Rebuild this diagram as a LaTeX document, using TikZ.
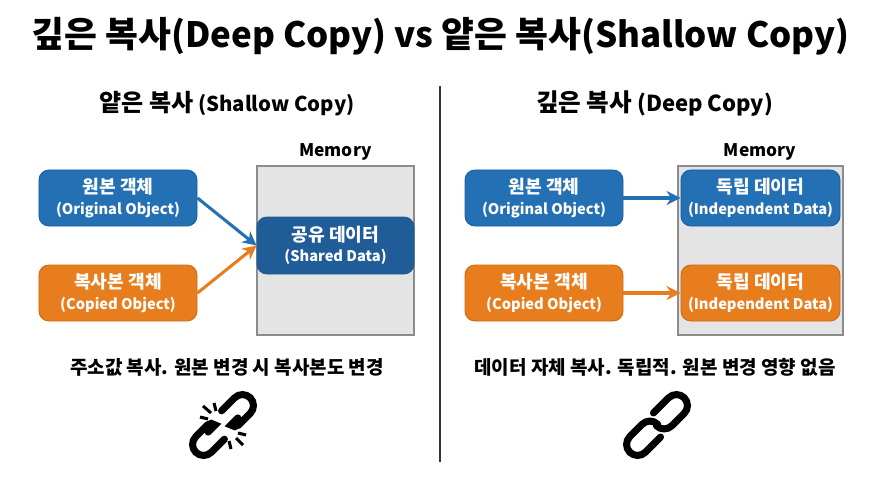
\documentclass[tikz,border=0pt]{standalone}
\usepackage{fontspec}
\setmainfont{Noto Sans CJK KR}
\usetikzlibrary{arrows.meta}

\definecolor{objblue}{HTML}{2470B4}
\definecolor{objblueline}{HTML}{1B5F9E}
\definecolor{shareblue}{HTML}{1F5C98}
\definecolor{objorange}{HTML}{E87D1E}
\definecolor{objorangeline}{HTML}{CC6A14}
\definecolor{memfill}{HTML}{E4E4E4}
\definecolor{memline}{HTML}{8C8C8C}

\newcommand{\krsized}[2]{{\fontsize{#1}{#1}\selectfont #2}}
\newcommand{\boxtext}[2]{\krsized{15.5}{#1}\\[0.5pt]#2}

\begin{document}
\begin{tikzpicture}[x=0.03cm, y=-0.03cm]
        \tikzset{
            title text/.style={font=\fontsize{29.8}{36}\selectfont\bfseries, text=black},
            head text/.style={font=\fontsize{17.4}{22}\selectfont\bfseries, text=black},
            note text/.style={font=\fontsize{16.2}{20}\selectfont\bfseries, text=black},
            memory text/.style={font=\fontsize{14.8}{18}\selectfont\bfseries, text=black},
            objbox/.style={
                    rounded corners=0.3cm, line width=0.8pt, text=white, align=center,
                    minimum width=4.74cm, minimum height=1.68cm, inner sep=0pt,
                    font=\fontsize{12.5}{17}\selectfont\bfseries
                },
            blue box/.style={objbox, fill=objblue, draw=objblueline},
            orange box/.style={objbox, fill=objorange, draw=objorangeline},
            share box/.style={objbox, fill=shareblue, draw=shareblue},
            memory box/.style={draw=memline, fill=memfill, line width=0.9pt, minimum height=5.07cm, inner sep=0pt},
            blue arrow/.style={draw=objblue, line width=2.6pt, -{Stealth[length=0.42cm, width=0.42cm]}},
            orange arrow/.style={draw=objorange, line width=2.6pt, -{Stealth[length=0.42cm, width=0.42cm]}},
            chain line/.style={line width=6pt, line cap=round, black},
            spark line/.style={line width=2.6pt, black},
            link whole/.pic={
                    \draw[chain line] (6,-11) -- (27.5,-11) arc (-90:90:11) -- (10,11) arc (90:180:11);
                    \draw[chain line] (-6,11) -- (-27.5,11) arc (90:270:11) -- (-10,-11) arc (-90:0:11);
                },
            link broken/.pic={
                    \draw[chain line] (9,-11) -- (27.5,-11) arc (-90:90:11) -- (11,11) arc (90:180:5.5) -- ++(10,0);
                    \draw[chain line] (-9,11) -- (-27.5,11) arc (90:270:11) -- (-11,-11) arc (-90:0:5.5) -- ++(-10,0);
                }
        }

        \fill[white] (0,0) rectangle (880,480);
        \useasboundingbox (0,0) rectangle (880,480);

        \node[title text] (title) at (440.5,36) {\krsized{30.5}{깊은 복사}(Deep Copy) vs \krsized{30.5}{얕은 복사}(Shallow Copy)};
        \node[head text] (headL) at (227,104) {\krsized{20.5}{얕은 복사} (Shallow Copy)};
        \node[head text, font=\fontsize{18.8}{22}\selectfont\bfseries] (headR) at (654.5,104) {\krsized{21}{깊은 복사} (Deep Copy)};

        \coordinate (divtop) at (440,86);
        \coordinate (divbot) at (440,462);
        \draw[line width=1pt, black!80] (divtop) -- (divbot);

        % left side
        \node[memory text] (memlabelL) at (335.5,152) {Memory};
        \node[memory box, minimum width=4.71cm] (memL) at (335.5,250.5) {};
        \node[blue box] (origL) at (118,198) {\boxtext{원본 객체}{(Original Object)}};
        \node[orange box] (copyL) at (118,293) {\boxtext{복사본 객체}{(Copied Object)}};
        \node[share box, minimum width=4.71cm, minimum height=1.71cm] (shared) at (335.5,245.5) {\boxtext{공유 데이터}{(Shared Data)}};
        \draw[blue arrow] (origL.east) -- (shared.west);
        \draw[orange arrow] (copyL.east) -- (shared.west);

        % right side
        \node[memory text] (memlabelR) at (760,152) {Memory};
        \node[memory box, minimum width=4.95cm] (memR) at (760.5,250.5) {};
        \node[blue box] (origR) at (544,198) {\boxtext{원본 객체}{(Original Object)}};
        \node[orange box] (copyR) at (544,293) {\boxtext{복사본 객체}{(Copied Object)}};
        \node[blue box, minimum width=4.77cm] (dataA) at (760.5,198) {\boxtext{독립 데이터}{(Independent Data)}};
        \node[orange box, minimum width=4.77cm] (dataB) at (760.5,293) {\boxtext{독립 데이터}{(Independent Data)}};
        \draw[blue arrow] (origR) -- (dataA);
        \draw[orange arrow] (copyR) -- (dataB);

        \node[note text] (noteL) at (227,367) {주소값 복사. 원본 변경 시 복사본도 변경};
        \node[note text] (noteR) at (655,367) {데이터 자체 복사. 독립적. 원본 변경 영향 없음};

        % chain icons
        \pic[rotate=45] at (223,425) {link broken};
        \pic[rotate=45] at (657,425) {link whole};
        \draw[spark line] (200,417) -- (208,419);
        \draw[spark line] (203,406) -- (211,413);
        \draw[spark line] (214,403) -- (216,411);
        \draw[spark line] (238,433) -- (246,435);
        \draw[spark line] (236,438) -- (243,445);
        \draw[spark line] (229,441) -- (231,449);
    \end{tikzpicture}
\end{document}
